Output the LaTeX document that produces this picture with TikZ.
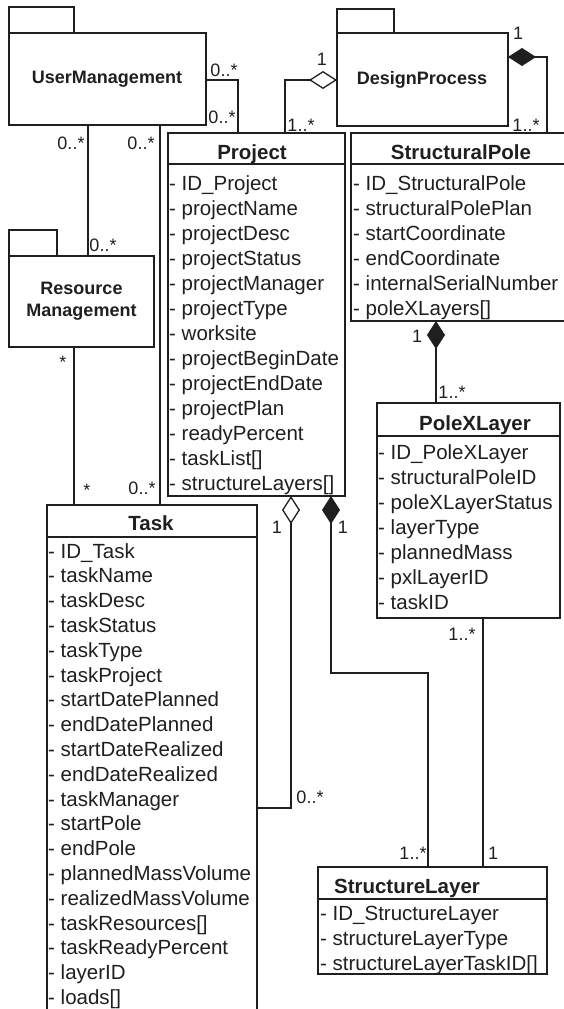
\documentclass[tikz,border=0pt]{standalone}
\usepackage{fontspec}
\setmainfont{Liberation Sans}
\usetikzlibrary{arrows.meta}
\begin{document}
\begin{tikzpicture}[x=1pt,y=-1pt,
  box/.style={draw=black!88, line width=1.5pt, inner sep=0pt, outer sep=0pt, anchor=north west},
  sepline/.style={draw=black!88, line width=1.5pt},
  conn/.style={draw=black!88, line width=1.3pt},
  attr/.style={anchor=base west, inner sep=0pt, text=black!88, font=\fontsize{20.5}{25}\selectfont},
  ttl/.style={anchor=base, inner sep=0pt, text=black!88, font=\fontsize{20.5}{25}\selectfont\bfseries},
  pkg/.style={inner sep=0pt, align=center, text=black!88, font=\fontsize{18}{22}\selectfont\bfseries},
  lbl/.style={inner sep=0pt, text=black!88, font=\fontsize{18}{22}\selectfont},
  odia/.style={{Diamond[open,length=28pt,width=18pt]}-},
  fdia/.style={{Diamond[length=28pt,width=18pt]}-},
]
\useasboundingbox (0,0) rectangle (563,1009);

% ---- packages ----
\node[box, minimum width=65pt, minimum height=26pt] (umtab) at (9,7) {};
\node[box, minimum width=197pt, minimum height=92pt] (um) at (9,33) {};
\node[pkg] (umt) at (107,79) {UserManagement};

\node[box, minimum width=57pt, minimum height=24pt] (dptab) at (337,9) {};
\node[box, minimum width=171pt, minimum height=93pt] (dp) at (337,33) {};
\node[pkg] (dpt) at (422,80) {DesignProcess};

\node[box, minimum width=48pt, minimum height=26pt] (rmtab) at (9,230) {};
\node[box, minimum width=145pt, minimum height=91pt] (rm) at (9,256) {};
\node[pkg] (rmt) at (81.5,301) {Resource\\Management};

% ---- Project ----
\node[box, minimum width=177pt, minimum height=363pt] (proj) at (168,133) {};
\node[ttl] (projt) at (252,159) {Project};
\draw[sepline] (proj.west |- 0,164) -- (proj.east |- 0,164);
\foreach \t [count=\i] in {ID\_Project, projectName, projectDesc, projectStatus,
  projectManager, projectType, worksite, projectBeginDate, projectEndDate,
  projectPlan, readyPercent, taskList[], structureLayers[]}
  \node[attr] (pa\i) at (169,165+25*\i) {- \t};

% ---- StructuralPole ----
\node[box, minimum width=215pt, minimum height=188pt] (sp) at (351,133) {};
\node[ttl] (spt) at (461,159) {StructuralPole};
\draw[sepline] (sp.west |- 0,164) -- (sp.east |- 0,164);
\foreach \t [count=\i] in {ID\_StructuralPole, structuralPolePlan, startCoordinate,
  endCoordinate, internalSerialNumber, poleXLayers[]}
  \node[attr] (sa\i) at (353,165+25*\i) {- \t};

% ---- PoleXLayer ----
\node[box, minimum width=183pt, minimum height=215pt] (pxl) at (377,403) {};
\node[ttl] (pxlt) at (475,430) {PoleXLayer};
\draw[sepline] (pxl.west |- 0,436) -- (pxl.east |- 0,436);
\foreach \t [count=\i] in {ID\_PoleXLayer, structuralPoleID, poleXLayerStatus,
  layerType, plannedMass, pxlLayerID, taskID}
  \node[attr] (xa\i) at (378,434+25*\i) {- \t};

% ---- Task ----
\node[box, minimum width=210pt, minimum height=560pt] (task) at (47,505) {};
\node[ttl] (taskt) at (151,530) {Task};
\draw[sepline] (task.west |- 0,537) -- (task.east |- 0,537);
\foreach \t [count=\i] in {ID\_Task, taskName, taskDesc, taskStatus, taskType,
  taskProject, startDatePlanned, endDatePlanned, startDateRealized, endDateRealized,
  taskManager, startPole, endPole, plannedMassVolume, realizedMassVolume,
  taskResources[], taskReadyPercent, layerID, loads[]}
  \node[attr] (ta\i) at (48,533.2+24.8*\i) {- \t};

% ---- StructureLayer ----
\node[box, minimum width=229pt, minimum height=107pt] (sl) at (318,867) {};
\node[ttl] (slt) at (407,893) {StructureLayer};
\draw[sepline] (sl.west |- 0,899) -- (sl.east |- 0,899);
\foreach \t [count=\i] in {ID\_StructureLayer, structureLayerType, structureLayerTaskID[]}
  \node[attr] (la\i) at (320,895+25*\i) {- \t};

% ---- connectors ----
\draw[conn] (um.east |- 0,80) -| (proj.north -| 238,0);
\node[lbl] (l1) at (224,70) {0..*};
\node[lbl] (l2) at (222,117) {0..*};

\draw[conn, odia] (dp.west |- 0,80) -| (proj.north -| 285,0);
\node[lbl] (l3) at (322,59) {1};
\node[lbl] (l4) at (301,125) {1..*};

\draw[conn, fdia] (dp.east |- 0,57) -| (sp.north -| 547,0);
\node[lbl] (l5) at (518,33) {1};
\node[lbl] (l6) at (526,125) {1..*};

\draw[conn] (um.south -| 88,0) -- (rm.north -| 88,0);
\node[lbl] (l7) at (71,143) {0..*};
\node[lbl] (l8) at (103,245) {0..*};

\draw[conn] (um.south -| 160,0) -- (task.north -| 160,0);
\node[lbl] (l9) at (141,143) {0..*};
\node[lbl] (l10) at (142,488) {0..*};

\draw[conn] (rm.south -| 74,0) -- (task.north -| 74,0);
\node[lbl] (l11) at (63,362) {*};
\node[lbl] (l12) at (87,490) {*};

\draw[conn, odia] (proj.south -| 291,0) |- (task.east |- 0,808);
\node[lbl] (l13) at (277,527) {1};
\node[lbl] (l14) at (310,797) {0..*};

\draw[conn, fdia] (proj.south -| 331,0) -- (331,673) -| (sl.north -| 428,0);
\node[lbl] (l15) at (343,527) {1};
\node[lbl] (l16) at (413,853) {1..*};

\draw[conn, fdia] (sp.south -| 436,0) -- (pxl.north -| 436,0);
\node[lbl] (l17) at (417,336) {1};
\node[lbl] (l18) at (452,392) {1..*};

\draw[conn] (pxl.south -| 483,0) -- (sl.north -| 483,0);
\node[lbl] (l19) at (462,634) {1..*};
\node[lbl] (l20) at (493,853) {1};
\end{tikzpicture}
\end{document}
